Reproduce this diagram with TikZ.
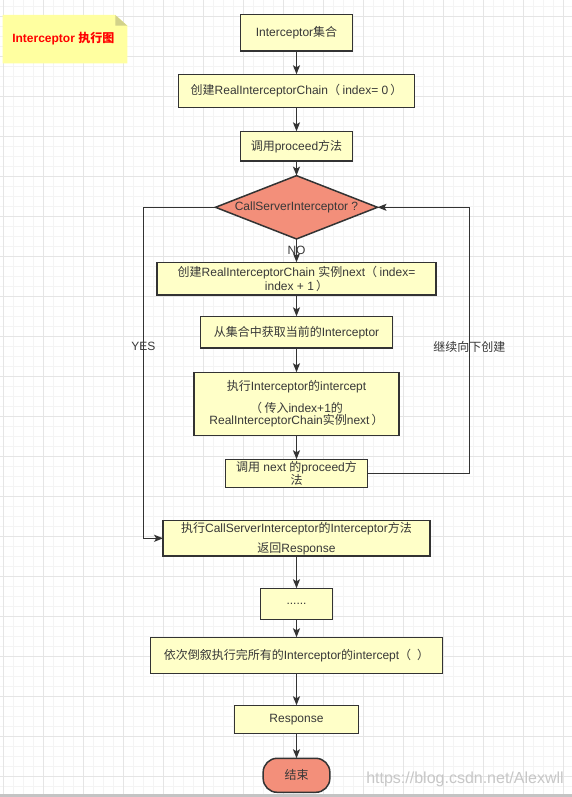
\documentclass[tikz,border=0pt]{standalone}
\usepackage{fontspec}
\setmainfont{Liberation Sans}
\newfontfamily\cjk{Noto Sans CJK SC}
\newcommand\zh[1]{{\cjk #1}}
\newcommand\lp{\zh{（}\hspace{2.5pt}}
\newcommand\rp{\hspace{2pt}\zh{）}}
\usetikzlibrary{shapes.geometric,arrows.meta}
\definecolor{boxfill}{HTML}{FFFFC8}
\definecolor{salmon}{HTML}{F38F7A}
\definecolor{edgecol}{HTML}{333333}
\definecolor{txtcol}{HTML}{383838}
\definecolor{notefill}{HTML}{FFFFA0}
\definecolor{foldcol}{HTML}{D2D28A}
\definecolor{barcol}{HTML}{C4C4C4}
\tikzset{
  minorgrid/.style={draw=gray!9, line width=1pt},
  majorgrid/.style={draw=gray!20, line width=1pt},
  stepbox/.style={draw=edgecol, line width=1.5pt, fill=boxfill, inner sep=0pt, outer sep=0pt,
    text=txtcol, font=\fontsize{12}{14}\selectfont, align=center},
  decision/.style={diamond, draw=edgecol, line width=1.5pt, fill=salmon, inner sep=0pt, outer sep=0pt,
    aspect=2.56, minimum width=162pt, minimum height=63.3pt, text=txtcol, font=\fontsize{12}{14}\selectfont},
  terminal/.style={draw=edgecol, line width=1.5pt, fill=salmon, rounded corners=14pt, inner sep=0pt, outer sep=0pt,
    text=txtcol, font=\fontsize{12}{14}\selectfont},
  arr/.style={draw=edgecol, line width=1.2pt, -{Stealth[length=9pt,width=7pt,inset=2pt]}},
  lbl/.style={text=txtcol, font=\fontsize{12}{14}\selectfont, inner sep=0pt},
}
\begin{document}
\begin{tikzpicture}[x=1pt,y=-1pt]
\useasboundingbox (0,0) rectangle (572,797);
\fill[white] (0,0) rectangle (572,797);
% grid
\foreach \x in {3.3,13.3,...,572} \draw[minorgrid] (\x,0) -- (\x,797);
\foreach \y in {6.7,16.7,...,797} \draw[minorgrid] (0,\y) -- (572,\y);
\foreach \x in {3.3,43.3,...,572} \draw[majorgrid] (\x,0) -- (\x,797);
\foreach \y in {16.7,56.7,...,797} \draw[majorgrid] (0,\y) -- (572,\y);
% note
\fill[notefill] (2.7,15) -- (115.3,15) -- (127.3,25.7) -- (127.3,63.3) -- (2.7,63.3) -- cycle;
\fill[foldcol] (115.3,15) -- (115.3,25.7) -- (127.3,25.7) -- cycle;
\node[text=red, font=\fontsize{12}{14}\selectfont\bfseries, inner sep=0pt] (title) at (63.3,38.3) {Interceptor \zh{执行图}};
% nodes
\node[stepbox, minimum width=112pt, minimum height=36.7pt] (b1) at (296.5,32.7) {Interceptor\zh{集合}};
\node[stepbox, minimum width=236.4pt, minimum height=33.4pt] (b2) at (296.5,91) {\zh{创建}RealInterceptorChain\lp index= 0\rp};
\node[stepbox, minimum width=112.4pt, minimum height=29.7pt] (b3) at (296.5,146.2) {\zh{调用}proceed\zh{方法}};
\node[decision] (d) at (296.5,207.3) {CallServerInterceptor ?};
\node[stepbox, minimum width=279pt, minimum height=32.7pt, font=\fontsize{12}{10}\selectfont] (b4) at (296.5,278.7) {\zh{创建}RealInterceptorChain \zh{实例}next\lp index=\\index + 1\rp};
\node[stepbox, minimum width=191.7pt, minimum height=31.7pt] (b5) at (296.5,332.2) {\zh{从集合中获取当前的}Interceptor};
\node[stepbox, minimum width=204.7pt, minimum height=63pt, font=\fontsize{12}{11}\selectfont] (b6) at (296.5,403.8) {\zh{执行}Interceptor\zh{的}intercept\\[8.4pt]\lp\zh{传入}index+1\zh{的}\\RealInterceptorChain\zh{实例}next\rp};
\node[stepbox, minimum width=141.7pt, minimum height=28pt, font=\fontsize{12}{10.6}\selectfont] (b7) at (296.5,473.3) {\zh{调用} next \zh{的}proceed\zh{方}\\\zh{法}};
\node[stepbox, minimum width=266.7pt, minimum height=35.3pt, font=\fontsize{12}{20}\selectfont] (b8) at (296.5,538.3) {\zh{执行}CallServerInterceptor\zh{的}Interceptor\zh{方法}\\\zh{返回}Response};
\node[stepbox, minimum width=71.7pt, minimum height=31pt] (b9) at (296.5,603.8) {......};
\node[stepbox, minimum width=292.4pt, minimum height=36pt] (b10) at (296.5,655.3) {\zh{依次倒叙执行完所有的}Interceptor\zh{的}intercept\zh{（}\hspace{6pt}\zh{）}};
\node[stepbox, minimum width=124pt, minimum height=28.4pt] (b11) at (296.5,719.5) {Response};
\node[terminal, minimum width=66.7pt, minimum height=34pt] (end) at (296.5,775.3) {\zh{结束}};
% helper coordinates
\coordinate (rt) at (469.3,0);
\coordinate (lf) at (143.3,0);
% edges
\draw[arr] (b1.south) -- (b2.north);
\draw[arr] (b2.south) -- (b3.north);
\draw[arr] (b3.south) -- (d.north);
\draw[arr] (d.south) -- node[lbl, pos=0.5] {NO} (b4.north);
\draw[arr] (b4.south) -- (b5.north);
\draw[arr] (b5.south) -- (b6.north);
\draw[arr] (b6.south) -- (b7.north);
\draw[arr] (b7.east) -- (b7.east -| rt) -- node[lbl, pos=0.476] {\zh{继续向下创建}} (d.east -| rt) -- (d.east);
\draw[arr] (d.west) -- (d.west -| lf) -- node[lbl, pos=0.421] {YES} (b8.west -| lf) -- (b8.west);
\draw[arr] (b8.south) -- (b9.north);
\draw[arr] (b9.south) -- (b10.north);
\draw[arr] (b10.south) -- (b11.north);
\draw[arr] (b11.south) -- (end.north);
% watermark and bottom bar
\node[text=black!22, font=\fontsize{16}{18}\selectfont, inner sep=0pt] (wm) at (465,779.3) {https://blog.csdn.net/Alexwll};
\fill[barcol] (0,794.3) rectangle (572,797);
\end{tikzpicture}
\end{document}
